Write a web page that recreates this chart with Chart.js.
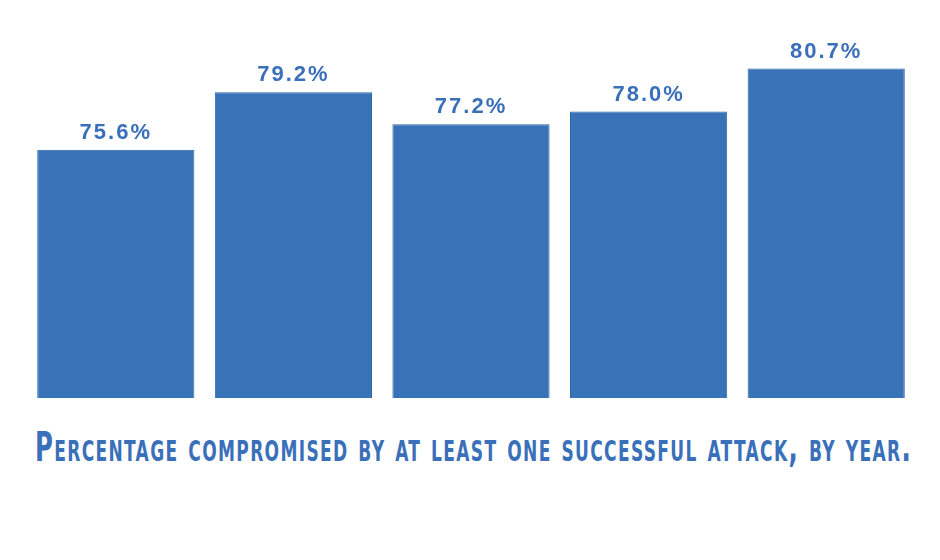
<!DOCTYPE html>
<html>
<head>
<meta charset="utf-8">
<script src="https://cdn.jsdelivr.net/npm/chart.js@4"></script>
<style>
  body { margin: 0; background: #fff; width: 940px; height: 560px; overflow: hidden; }
  #wrap { position: relative; width: 940px; height: 400px; }
  #caption {
    position: absolute; left: 35px; top: 424px; white-space: nowrap;
    font-family: "Liberation Sans Narrow", "DejaVu Sans Condensed", sans-serif;
    font-weight: bold; font-variant: small-caps; font-size: 40px;
    color: #3a6fba; letter-spacing: 2px; transform-origin: left top;
  }
</style>
</head>
<body>
<div id="wrap"><canvas id="chart"></canvas></div>
<div id="caption">Percentage compromised by at least one successful attack, by year.</div>
<script>
const years = ['2016', '2017', '2018', '2019', '2020'];
const compromised = [75.6, 79.2, 77.2, 78.0, 80.7];

const valueLabels = {
    id: 'valueLabels',
    afterDatasetsDraw(chart) {
        const ctx = chart.ctx;
        const meta = chart.getDatasetMeta(0);
        ctx.save();
        ctx.fillStyle = '#3a6fba';
        ctx.font = "bold 22px 'Liberation Sans', Arial, sans-serif";
        ctx.textAlign = 'center';
        ctx.textBaseline = 'bottom';
        if ('letterSpacing' in ctx) ctx.letterSpacing = '2px';
        meta.data.forEach((bar, i) => {
            ctx.fillText(compromised[i].toFixed(1) + '%', bar.x, bar.y - 6);
        });
        ctx.restore();
    },
};

new Chart(document.getElementById('chart').getContext('2d'), {
    type: 'bar',
    data: {
        labels: years,
        datasets: [{
            data: compromised,
            backgroundColor: '#3873b8',
            borderColor: '#2f64a3',
            borderWidth: 1,
            barPercentage: 0.885,
            categoryPercentage: 1,
        }],
    },
    options: {
        responsive: true,
        maintainAspectRatio: false,
        animation: false,
        layout: { padding: { left: 27, right: 25, top: 0, bottom: 2 } },
        plugins: { legend: { display: false }, tooltip: { enabled: false } },
        scales: {
            x: { display: false },
            y: { display: false, min: 60, max: 85 },
        },
    },
    plugins: [valueLabels],
});

const cap = document.getElementById('caption');
const w = cap.getBoundingClientRect().width;
cap.style.transform = 'scaleX(' + (877 / w) + ')';
</script>
</body>
</html>
